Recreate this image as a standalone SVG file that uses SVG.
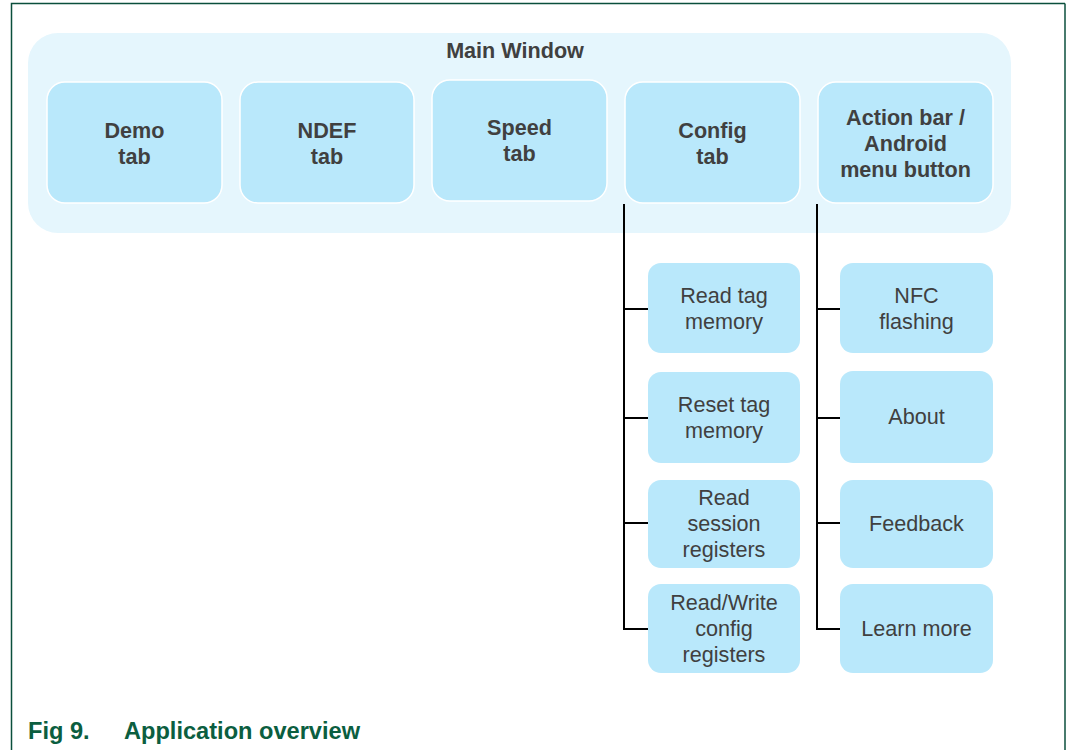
<svg xmlns="http://www.w3.org/2000/svg" width="1066" height="750" viewBox="0 0 1066 750">
<style>
.frame{fill:none;stroke:#0B4F3C;stroke-width:1.5}
.main{fill:#E5F6FD}
.top{fill:#B9E8FB;stroke:#FFFFFF;stroke-width:1.5}
.child{fill:#B9E8FB}
.tb{font-family:"Liberation Sans",Arial,sans-serif;font-size:21.6px;font-weight:bold;fill:#404040;text-anchor:middle}
.tc{font-family:"Liberation Sans",Arial,sans-serif;font-size:21.6px;fill:#404040;text-anchor:middle}
.cap{font-family:"Liberation Sans",Arial,sans-serif;font-size:23.6px;font-weight:bold;fill:#0B5E40}
.conn{fill:none;stroke:#000;stroke-width:2}
</style>
<rect width="1066" height="750" fill="#fff"/>
<path class="frame" d="M11.5 750 V3.5 H1065"/>
<path class="frame" d="M1065 3.5 V750"/>
<g id="main-window">
<rect class="main" x="28" y="33" width="983" height="200" rx="30"/>
<text class="tb" x="515" y="58">Main Window</text>
</g>
<g id="demo-tab">
<rect class="top" x="47" y="82" width="175" height="121" rx="18"/>
<text class="tb" x="134.5" y="138">Demo</text>
<text class="tb" x="134.5" y="164">tab</text>
</g>
<g id="ndef-tab">
<rect class="top" x="240" y="82" width="174" height="121" rx="18"/>
<text class="tb" x="327" y="138">NDEF</text>
<text class="tb" x="327" y="164">tab</text>
</g>
<g id="speed-tab">
<rect class="top" x="432" y="80" width="175" height="121" rx="18"/>
<text class="tb" x="519.5" y="135">Speed</text>
<text class="tb" x="519.5" y="161">tab</text>
</g>
<g id="config-tab">
<rect class="top" x="625" y="82" width="175" height="121" rx="18"/>
<text class="tb" x="712.5" y="138">Config</text>
<text class="tb" x="712.5" y="164">tab</text>
</g>
<g id="action-bar">
<rect class="top" x="818" y="82" width="175" height="121" rx="18"/>
<text class="tb" x="905.5" y="125">Action bar /</text>
<text class="tb" x="905.5" y="151">Android</text>
<text class="tb" x="905.5" y="177">menu button</text>
</g>
<g id="connectors">
<path class="conn" d="M624 204 V629 H648 M624 309 H648 M624 418 H648 M624 523 H648"/>
<path class="conn" d="M817 204 V629 H840 M817 309 H840 M817 418 H840 M817 523 H840"/>
</g>
<g id="read-tag-memory">
<rect class="child" x="648" y="263" width="152" height="90" rx="13"/>
<text class="tc" x="724" y="303">Read tag</text>
<text class="tc" x="724" y="329">memory</text>
</g>
<g id="reset-tag-memory">
<rect class="child" x="648" y="372" width="152" height="91" rx="13"/>
<text class="tc" x="724" y="412">Reset tag</text>
<text class="tc" x="724" y="438">memory</text>
</g>
<g id="read-session-registers">
<rect class="child" x="648" y="480" width="152" height="88" rx="13"/>
<text class="tc" x="724" y="505">Read</text>
<text class="tc" x="724" y="531">session</text>
<text class="tc" x="724" y="557">registers</text>
</g>
<g id="rw-config-registers">
<rect class="child" x="648" y="584" width="152" height="89" rx="13"/>
<text class="tc" x="724" y="610">Read/Write</text>
<text class="tc" x="724" y="636">config</text>
<text class="tc" x="724" y="662">registers</text>
</g>
<g id="nfc-flashing">
<rect class="child" x="840" y="263" width="153" height="90" rx="13"/>
<text class="tc" x="916.5" y="303">NFC</text>
<text class="tc" x="916.5" y="329">flashing</text>
</g>
<g id="about">
<rect class="child" x="840" y="371" width="153" height="92" rx="13"/>
<text class="tc" x="916.5" y="424">About</text>
</g>
<g id="feedback">
<rect class="child" x="840" y="480" width="153" height="88" rx="13"/>
<text class="tc" x="916.5" y="531">Feedback</text>
</g>
<g id="learn-more">
<rect class="child" x="840" y="584" width="153" height="89" rx="13"/>
<text class="tc" x="916.5" y="636">Learn more</text>
</g>
<g id="caption">
<text class="cap" x="28" y="739">Fig 9.</text>
<text class="cap" x="124" y="739">Application overview</text>
</g>
</svg>
